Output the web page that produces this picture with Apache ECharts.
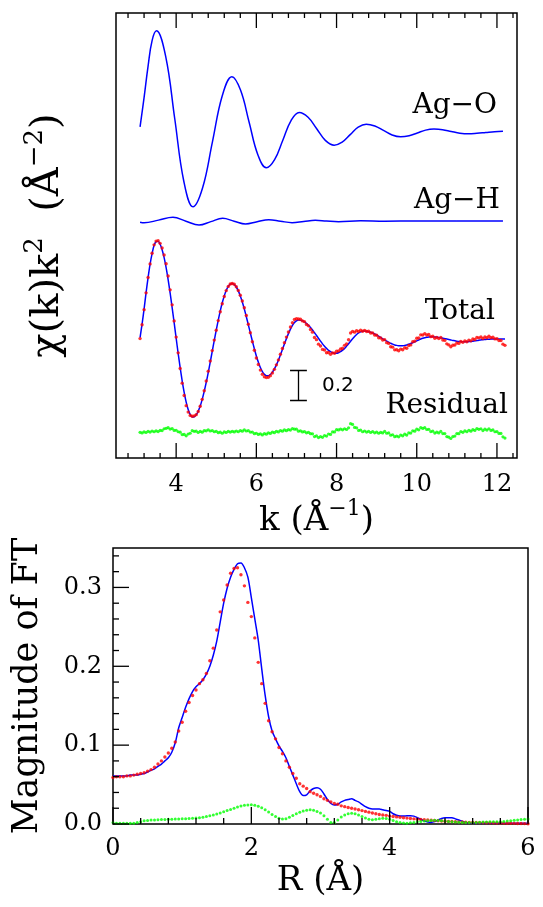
<!DOCTYPE html>
<html><head><meta charset="utf-8">
<script src="https://cdn.jsdelivr.net/npm/echarts@6/dist/echarts.min.js"></script>
<style>html,body{margin:0;padding:0;background:#fff}#c{width:543px;height:907px}</style>
</head><body><div id="c"></div>
<script>
// ---------- tick values ----------
const kTicks = [4, 6, 8, 10, 12];
const kMinorTicks = [2.8,3.2,3.6,4.4,4.8,5.2,5.6,6.4,6.8,7.2,7.6,8.4,8.8,9.2,9.6,10.4,10.8,11.2,11.6,12.4];
const rTicks = [0, 2, 4, 6];
const rMinorTicks = [0.4,0.8,1.2,1.6,2.4,2.8,3.2,3.6,4.4,4.8,5.2,5.6];
const ftTicks = [0, 0.1, 0.2, 0.3];
const ftMinorTicks = [0.02,0.04,0.06,0.08,0.12,0.14,0.16,0.18,0.22,0.24,0.26,0.28,0.32,0.34];

// ---------- curve labels and vertical offsets of the stacked k-space curves ----------
const curveNames = ['Ag−O', 'Ag−H', 'Total', 'Residual'];
const curveOffsets = [2.183, 1.58, 0.793, 0.175];
const scaleBarValue = 0.2;

// ---------- chi(k)k^2 path contributions ----------
const agOK = [3.10,3.20,3.30,3.40,3.51,3.74,3.965,4.19,4.42,4.66,4.905,5.15,5.39,5.605,5.82,6.035,6.25,6.455,6.66,6.865,7.07,7.29,7.505,7.72,7.94,8.14,8.34,8.54,8.74,8.955,9.17,9.385,9.60,9.81,10.015,10.22,10.43,10.645,10.86,11.075,11.29,11.50,11.72,11.94,12.15];
const agO  = [0.025,0.22,0.43,0.60,0.665,0.493,0.079,-0.336,-0.508,-0.381,-0.075,0.232,0.359,0.270,0.056,-0.159,-0.248,-0.194,-0.064,0.067,0.121,0.089,0.012,-0.065,-0.097,-0.077,-0.027,0.023,0.043,0.031,0.001,-0.029,-0.041,-0.034,-0.016,0.003,0.010,0.006,-0.006,-0.017,-0.021,-0.018,-0.013,-0.008,-0.005];
const agHK = [3.10,3.20,3.56,3.92,4.245,4.57,4.865,5.16,5.445,5.73,6.02,6.31,6.60,6.89,7.18,7.47,7.75,8.05,8.60,9.20,10.0,11.0,12.15];
const agH  = [-0.008,-0.012,0.006,0.025,-0.001,-0.027,-0.004,0.018,-0.001,-0.020,-0.005,0.009,-0.001,-0.011,-0.003,0.005,0.000,-0.004,0.002,-0.001,0.001,0.000,0.000];

// ---------- Total: fit, data and residual, sampled every 0.05 from k = 3.10 ----------
const kStart = 3.10, kStep = 0.05;
const totalFit = [
0.010,0.100,0.200,0.310,0.410,0.500,0.570,0.625,0.650,0.652,
0.632,0.596,0.543,0.476,0.396,0.307,0.210,0.109,0.006,-0.095,
-0.190,-0.278,-0.355,-0.420,-0.469,-0.502,-0.519,-0.518,-0.505,-0.481,
-0.447,-0.402,-0.349,-0.289,-0.224,-0.154,-0.082,-0.010,0.059,0.126,
0.188,0.242,0.288,0.325,0.351,0.366,0.370,0.363,0.347,0.321,
0.287,0.247,0.200,0.149,0.095,0.041,-0.013,-0.065,-0.113,-0.155,
-0.190,-0.217,-0.235,-0.244,-0.244,-0.236,-0.221,-0.199,-0.172,-0.141,
-0.106,-0.070,-0.033,0.003,0.036,0.066,0.091,0.110,0.122,0.127,
0.126,0.122,0.115,0.104,0.092,0.077,0.060,0.042,0.024,0.005,
-0.014,-0.032,-0.048,-0.062,-0.075,-0.084,-0.091,-0.094,-0.095,-0.091,
-0.084,-0.074,-0.062,-0.047,-0.031,-0.014,0.002,0.017,0.030,0.041,
0.048,0.052,0.053,0.052,0.049,0.045,0.040,0.034,0.027,0.019,
0.011,0.002,-0.006,-0.014,-0.021,-0.028,-0.034,-0.039,-0.042,-0.044,
-0.045,-0.044,-0.042,-0.039,-0.035,-0.030,-0.024,-0.018,-0.012,-0.006,
0.000,0.005,0.009,0.012,0.014,0.015,0.015,0.014,0.013,0.011,
0.008,0.006,0.003,0.000,-0.003,-0.006,-0.009,-0.011,-0.014,-0.016,
-0.017,-0.018,-0.018,-0.018,-0.017,-0.016,-0.014,-0.012,-0.010,-0.008,
-0.006,-0.004,-0.003,-0.002,-0.001,0.000,0.000,0.001,0.001,0.001,
0.001,0.000,0.000];
const totalData = [
0.003,0.095,0.196,0.308,0.410,0.501,0.572,0.628,0.653,0.656,
0.638,0.607,0.560,0.502,0.420,0.328,0.228,0.121,0.013,-0.092,
-0.196,-0.294,-0.376,-0.444,-0.487,-0.509,-0.515,-0.512,-0.504,-0.483,
-0.448,-0.402,-0.345,-0.280,-0.214,-0.146,-0.077,-0.007,0.059,0.123,
0.182,0.235,0.284,0.323,0.351,0.367,0.370,0.365,0.349,0.324,
0.292,0.254,0.209,0.157,0.099,0.042,-0.018,-0.075,-0.126,-0.170,
-0.207,-0.235,-0.251,-0.257,-0.255,-0.244,-0.226,-0.202,-0.172,-0.139,
-0.101,-0.063,-0.024,0.013,0.047,0.080,0.109,0.130,0.136,0.134,
0.132,0.121,0.116,0.097,0.088,0.064,0.046,0.010,-0.004,-0.034,
-0.046,-0.069,-0.073,-0.091,-0.090,-0.102,-0.092,-0.095,-0.081,-0.079,
-0.066,-0.061,-0.042,-0.032,-0.005,0.040,0.051,0.046,0.056,0.050,
0.059,0.052,0.058,0.050,0.052,0.040,0.041,0.027,0.025,0.009,
0.007,-0.006,-0.004,-0.024,-0.029,-0.051,-0.054,-0.072,-0.071,-0.078,
-0.067,-0.071,-0.058,-0.061,-0.043,-0.039,-0.018,-0.014,0.005,0.007,
0.028,0.027,0.036,0.027,0.030,0.016,0.019,0.005,0.010,0.003,
0.010,-0.006,-0.009,-0.032,-0.039,-0.051,-0.041,-0.040,-0.026,-0.029,
-0.016,-0.022,-0.012,-0.018,-0.007,-0.012,0.000,-0.003,0.011,0.008,
0.014,0.004,0.014,0.009,0.019,0.009,0.012,0.001,0.002,-0.010,
-0.010,-0.034,-0.042];
const residual = [
-0.004,-0.008,-0.001,-0.005,0.003,-0.002,0.005,0.000,0.006,0.001,
0.009,0.008,0.020,0.023,0.027,0.018,0.021,0.009,0.010,0.000,
-0.003,-0.019,-0.018,-0.027,-0.015,-0.010,0.007,0.003,0.004,-0.005,
0.002,-0.003,0.007,0.006,0.013,0.005,0.008,0.000,0.003,-0.006,
-0.003,-0.010,-0.001,-0.005,0.003,-0.002,0.003,-0.001,0.005,0.000,
0.008,0.004,0.012,0.005,0.007,-0.002,-0.002,-0.013,-0.010,-0.018,
-0.014,-0.021,-0.013,-0.016,-0.008,-0.011,-0.002,-0.006,0.003,-0.001,
0.008,0.004,0.012,0.007,0.014,0.011,0.021,0.017,0.017,0.004,
0.006,-0.001,0.001,-0.007,-0.004,-0.013,-0.014,-0.032,-0.028,-0.039,
-0.032,-0.037,-0.025,-0.029,-0.015,-0.018,-0.001,-0.001,0.014,0.012,
0.018,0.013,0.020,0.015,0.026,0.054,0.049,0.029,0.026,0.009,
0.011,0.000,0.005,-0.002,0.003,-0.005,0.001,-0.007,-0.002,-0.010,
-0.004,-0.008,0.002,-0.010,-0.008,-0.023,-0.020,-0.033,-0.029,-0.034,
-0.022,-0.027,-0.016,-0.022,-0.008,-0.009,0.006,0.004,0.017,0.013,
0.028,0.022,0.027,0.015,0.016,0.001,0.004,-0.009,-0.003,-0.008,
0.002,-0.012,-0.012,-0.032,-0.036,-0.045,-0.032,-0.029,-0.012,-0.013,
0.001,-0.004,0.006,0.000,0.010,0.004,0.014,0.009,0.021,0.016,
0.020,0.008,0.017,0.011,0.020,0.009,0.012,0.000,0.001,-0.011,
-0.011,-0.034,-0.042];

// ---------- Fourier transform magnitudes, sampled every 0.05 from R = 0 ----------
const rStart = 0, rStep = 0.05;
const ftFit = [
0.061,0.061,0.061,0.061,0.061,0.062,0.062,0.062,0.063,0.064,
0.066,0.068,0.070,0.073,0.076,0.080,0.084,0.091,0.103,0.122,
0.135,0.148,0.159,0.168,0.174,0.178,0.183,0.190,0.200,0.214,
0.232,0.256,0.280,0.299,0.313,0.323,0.330,0.331,0.325,0.313,
0.287,0.260,0.233,0.197,0.163,0.136,0.118,0.108,0.099,0.092,
0.084,0.073,0.062,0.051,0.041,0.036,0.037,0.042,0.045,0.046,
0.044,0.038,0.031,0.026,0.024,0.025,0.028,0.030,0.031,0.032,
0.030,0.028,0.025,0.022,0.020,0.019,0.019,0.019,0.018,0.017,
0.016,0.013,0.011,0.010,0.010,0.0105,0.0105,0.010,0.008,0.006,
0.004,0.0025,0.002,0.003,0.005,0.007,0.008,0.008,0.008,0.0065,
0.005,0.0035,0.002,0.0015,0.001,0.001,0.001,0.001,0.001,0.001,
0.001,0.001,0.001,0.001,0.001,0.001,0.001,0.001,0.001,0.001,
0.001];
const ftData = [
0.059,0.060,0.060,0.060,0.061,0.061,0.062,0.063,0.064,0.065,
0.067,0.069,0.072,0.076,0.080,0.085,0.090,0.096,0.104,0.118,
0.129,0.143,0.154,0.163,0.170,0.178,0.183,0.191,0.207,0.223,
0.246,0.269,0.284,0.303,0.318,0.324,0.325,0.316,0.302,0.281,
0.263,0.236,0.205,0.178,0.153,0.131,0.117,0.108,0.097,0.089,
0.080,0.072,0.064,0.058,0.051,0.048,0.045,0.041,0.039,0.037,
0.035,0.032,0.030,0.028,0.026,0.025,0.023,0.022,0.021,0.020,
0.019,0.018,0.017,0.016,0.015,0.014,0.013,0.012,0.0115,0.011,
0.010,0.0095,0.009,0.0085,0.008,0.0075,0.007,0.0065,0.006,0.0057,
0.0053,0.005,0.0047,0.0044,0.0041,0.0038,0.0035,0.0033,0.0031,0.0029,
0.0027,0.0025,0.0023,0.0021,0.002,0.0019,0.0018,0.0017,0.0016,0.0015,
0.0014,0.0013,0.0012,0.0011,0.0010,0.0009,0.0008,0.0007,0.0006,0.0005,
0.0004];
const ftResidual = [
0.002,0.001,0.001,0.001,0.001,0.001,0.001,0.002,0.003,0.004,
0.0045,0.005,0.0052,0.0054,0.0056,0.0058,0.006,0.006,0.0062,0.0064,
0.0066,0.0068,0.007,0.0072,0.0075,0.008,0.0087,0.0095,0.0105,0.0115,
0.0127,0.014,0.0155,0.017,0.0185,0.020,0.0215,0.0228,0.0237,0.0242,
0.0243,0.0237,0.0225,0.0205,0.018,0.0152,0.0122,0.0095,0.0072,0.0062,
0.0068,0.0085,0.0108,0.013,0.015,0.0165,0.0175,0.018,0.0175,0.016,
0.0138,0.0105,0.006,0.002,0.002,0.005,0.009,0.0115,0.013,0.0135,
0.013,0.0115,0.0095,0.0075,0.006,0.0055,0.006,0.0068,0.0072,0.007,
0.006,0.0045,0.003,0.002,0.0012,0.001,0.0015,0.002,0.0027,0.0033,
0.0038,0.0042,0.0045,0.0046,0.0045,0.0042,0.0038,0.0033,0.0028,0.0024,
0.0021,0.0019,0.0018,0.0018,0.0019,0.002,0.0022,0.0024,0.0026,0.0027,
0.0028,0.0029,0.003,0.0033,0.0037,0.0042,0.0047,0.0052,0.0056,0.006,
0.0064];

// ---------- build ----------
const SERIF = '"DejaVu Serif", serif';
const SANS = '"DejaVu Sans", sans-serif';
const BLUE = '#0000ff', RED = '#ff0000', GREEN = '#00ff00';
const K_MIN = 2.5, K_MAX = 12.5, CHI_MAX = 2.967, R_MIN = 0, R_MAX = 6, FT_MAX = 0.35;
const kGrid = totalFit.map((_, i) => +(kStart + kStep * i).toFixed(2));
const rGrid = ftFit.map((_, i) => +(rStart + rStep * i).toFixed(2));
const pairs = (xs, vs, off) => vs.map((v, i) => [xs[i], v + (off || 0)]);

// axis ticks drawn inward from the frame through the axes' own coordinate mapping
function tickSeries(xi, yi, items, side) {
  return {
    type: 'custom', coordinateSystem: 'cartesian2d', xAxisIndex: xi, yAxisIndex: yi,
    silent: true, z: 6, clip: false, data: items,
    renderItem: function (params, api) {
      const p = api.coord([api.value(0), api.value(1)]);
      const len = api.value(2);
      let x2 = p[0], y2 = p[1];
      if (side === 'bottom') y2 = p[1] - len;
      else if (side === 'top') y2 = p[1] + len;
      else x2 = p[0] + len;
      return {type: 'line', shape: {x1: p[0], y1: p[1], x2: x2, y2: y2},
              style: {stroke: '#000', lineWidth: 1.3}};
    }
  };
}
const labelStyle = {show: true, fontFamily: SERIF, fontSize: 24, color: '#000'};
const plainAxis = {axisLine: {show: false, onZero: false}, axisTick: {show: false}, splitLine: {show: false}};

const option = {
  animation: false,
  backgroundColor: '#fff',
  grid: [
    {left: 116, top: 13, right: 26, bottom: 449, show: true, borderColor: '#000', borderWidth: 1.5},
    {left: 113, top: 548, right: 15, bottom: 83, show: true, borderColor: '#000', borderWidth: 1.5}
  ],
  xAxis: [
    Object.assign({gridIndex: 0, type: 'value', min: K_MIN, max: K_MAX, position: 'bottom',
      axisLabel: Object.assign({customValues: kTicks, margin: 15}, labelStyle),
      name: '{t|k (Å}{s|−1}{t|)}', nameLocation: 'middle', nameGap: 40,
      nameTextStyle: {rich: {
        t: {fontFamily: SERIF, fontSize: 34, color: '#000', verticalAlign: 'bottom', lineHeight: 40},
        s: {fontFamily: SERIF, fontSize: 22, color: '#000', verticalAlign: 'top', lineHeight: 22}}}
    }, plainAxis),
    Object.assign({gridIndex: 1, type: 'value', min: R_MIN, max: R_MAX, position: 'bottom',
      axisLabel: Object.assign({customValues: rTicks, margin: 13}, labelStyle),
      name: 'R (Å)', nameLocation: 'middle', nameGap: 40,
      nameTextStyle: {fontFamily: SERIF, fontSize: 34, color: '#000'}
    }, plainAxis)
  ],
  yAxis: [
    Object.assign({gridIndex: 0, type: 'value', min: 0, max: CHI_MAX, axisLabel: {show: false},
     name: '{t|χ(k)k}{s|2}{t|  (Å}{s|−2}{t|)}', nameLocation: 'middle', nameGap: 48,
     nameTextStyle: {rich: {
       t: {fontFamily: SERIF, fontSize: 40, color: '#000', verticalAlign: 'bottom', lineHeight: 46},
       s: {fontFamily: SERIF, fontSize: 26, color: '#000', verticalAlign: 'top', lineHeight: 26}}}
    }, plainAxis),
    Object.assign({gridIndex: 1, type: 'value', min: 0, max: FT_MAX, position: 'left',
      axisLabel: Object.assign({customValues: ftTicks, margin: 11, formatter: v => v.toFixed(1)}, labelStyle),
      name: 'Magnitude of FT', nameLocation: 'middle', nameGap: 68,
      nameTextStyle: {fontFamily: SERIF, fontSize: 35, color: '#000'}
    }, plainAxis)
  ],
  series: [
    {name: curveNames[0], type: 'line', xAxisIndex: 0, yAxisIndex: 0, data: pairs(agOK, agO, curveOffsets[0]),
     smooth: 0.4, showSymbol: false, lineStyle: {color: BLUE, width: 1.5}, z: 2},
    {name: curveNames[1], type: 'line', xAxisIndex: 0, yAxisIndex: 0, data: pairs(agHK, agH, curveOffsets[1]),
     smooth: 0.4, showSymbol: false, lineStyle: {color: BLUE, width: 1.5}, z: 2},
    {name: curveNames[2] + ' fit', type: 'line', xAxisIndex: 0, yAxisIndex: 0, data: pairs(kGrid, totalFit, curveOffsets[2]),
     smooth: 0.3, showSymbol: false, lineStyle: {color: BLUE, width: 1.5}, z: 2},
    {name: curveNames[2] + ' data', type: 'scatter', xAxisIndex: 0, yAxisIndex: 0, data: pairs(kGrid, totalData, curveOffsets[2]),
     symbol: 'circle', symbolSize: 3.4, itemStyle: {color: RED}, z: 3},
    {name: curveNames[3], type: 'scatter', xAxisIndex: 0, yAxisIndex: 0, data: pairs(kGrid, residual, curveOffsets[3]),
     symbol: 'circle', symbolSize: 3.2, itemStyle: {color: GREEN}, z: 3},
    {name: 'scale', type: 'lines', coordinateSystem: 'cartesian2d', xAxisIndex: 0, yAxisIndex: 0, polyline: false,
     lineStyle: {color: '#000', width: 1.3, opacity: 1},
     data: [
       {coords: [[7.05, 0.387], [7.05, 0.387 + scaleBarValue]]},
       {coords: [[6.84, 0.387], [7.26, 0.387]]},
       {coords: [[6.84, 0.387 + scaleBarValue], [7.26, 0.387 + scaleBarValue]]}
     ], z: 4},
    {name: 'FT fit', type: 'line', xAxisIndex: 1, yAxisIndex: 1, data: pairs(rGrid, ftFit),
     smooth: 0.3, showSymbol: false, lineStyle: {color: BLUE, width: 1.5}, z: 2},
    {name: 'FT data', type: 'scatter', xAxisIndex: 1, yAxisIndex: 1, data: pairs(rGrid, ftData),
     symbol: 'circle', symbolSize: 3.4, itemStyle: {color: RED}, z: 3},
    {name: 'FT residual', type: 'scatter', xAxisIndex: 1, yAxisIndex: 1, data: pairs(rGrid, ftResidual),
     symbol: 'circle', symbolSize: 3.0, itemStyle: {color: GREEN}, z: 3},
    // ticks
    tickSeries(0, 0, kTicks.map(v => [v, 0, 15]).concat(kMinorTicks.map(v => [v, 0, 5])), 'bottom'),
    tickSeries(0, 0, kTicks.map(v => [v, CHI_MAX, 15]).concat(kMinorTicks.map(v => [v, CHI_MAX, 5])), 'top'),
    tickSeries(1, 1, rTicks.map(v => [v, 0, 17]).concat(rMinorTicks.map(v => [v, 0, 6])), 'bottom'),
    tickSeries(1, 1, ftTicks.map(v => [R_MIN, v, 16]).concat(ftMinorTicks.map(v => [R_MIN, v, 6])), 'left')
  ],
  graphic: [
    {type: 'text', x: 497, y: 106, style: {text: curveNames[0], font: '28px ' + SERIF, fill: '#000', align: 'right', verticalAlign: 'middle', textAlign: 'right', textVerticalAlign: 'middle'}},
    {type: 'text', x: 500, y: 201, style: {text: curveNames[1], font: '28px ' + SERIF, fill: '#000', align: 'right', verticalAlign: 'middle', textAlign: 'right', textVerticalAlign: 'middle'}},
    {type: 'text', x: 495, y: 312, style: {text: curveNames[2], font: '28px ' + SERIF, fill: '#000', align: 'right', verticalAlign: 'middle', textAlign: 'right', textVerticalAlign: 'middle'}},
    {type: 'text', x: 508, y: 406, style: {text: curveNames[3], font: '28px ' + SERIF, fill: '#000', align: 'right', verticalAlign: 'middle', textAlign: 'right', textVerticalAlign: 'middle'}},
    {type: 'text', x: 322, y: 386, style: {text: String(scaleBarValue), font: '20px ' + SANS, fill: '#000', align: 'left', verticalAlign: 'middle', textAlign: 'left', textVerticalAlign: 'middle'}}
  ]
};
const chart = echarts.init(document.getElementById('c'));
chart.setOption(option);
</script>
</body></html>
